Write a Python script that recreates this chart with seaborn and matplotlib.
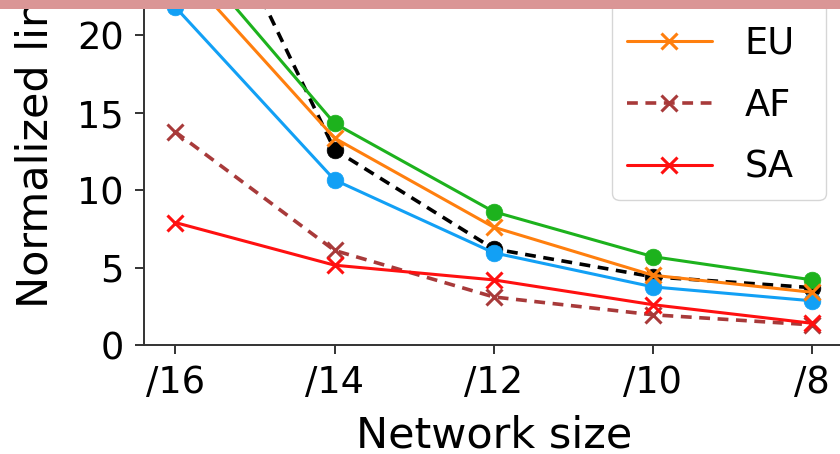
import matplotlib
matplotlib.use("Agg")
import matplotlib.pyplot as plt
from matplotlib.patches import Rectangle
import pandas as pd
import seaborn as sns

# Network sizes on the x axis
sizes = ["/16", "/14", "/12", "/10", "/8"]

# Normalized values per region
all_vals = [33.9, 12.6, 6.2, 4.4, 3.7]
as_vals = [26.3, 14.3, 8.6, 5.7, 4.2]
oc_vals = [21.8, 10.65, 5.95, 3.75, 2.85]
eu_vals = [24.7, 13.35, 7.6, 4.5, 3.4]
af_vals = [13.75, 6.1, 3.1, 1.95, 1.3]
sa_vals = [7.9, 5.15, 4.2, 2.6, 1.4]

regions = ["ALL", "AS", "OC", "EU", "AF", "SA"]
values = [all_vals, as_vals, oc_vals, eu_vals, af_vals, sa_vals]
colors = ["black", "#1db21d", "#12a0f5", "#ff7f0e", "#a83a3a", "#ff1010"]
markers = ["o", "o", "o", "x", "x", "x"]
dashed = [True, False, False, False, True, False]

df = pd.concat(
    [pd.DataFrame({"size": sizes, "value": v, "region": r}) for r, v in zip(regions, values)],
    ignore_index=True,
)

sns.set_style("ticks")
plt.rcParams["font.family"] = ["DejaVu Sans"]
plt.rcParams["text.color"] = "black"
plt.rcParams["axes.labelcolor"] = "black"
plt.rcParams["xtick.color"] = "black"
plt.rcParams["ytick.color"] = "black"

fig = plt.figure(figsize=(8.4, 4.54), dpi=100)
W, H = 840, 454
ax_left, ax_right = 143.5, 844.0
ax_bottom, ax_top = 345.0, -197.5
ax = fig.add_axes([ax_left / W, 1 - ax_bottom / H,
                   (ax_right - ax_left) / W, (ax_bottom - ax_top) / H])

for r, c, m, d in zip(regions, colors, markers, dashed):
    sub = df[df["region"] == r]
    sns.lineplot(
        data=sub, x="size", y="value", ax=ax, color=c, marker=m,
        linestyle=(0, (3.0, 2.1)) if d else "-",
        linewidth=2.6 if d else 2.2, markersize=12,
        markeredgecolor=c, markeredgewidth=2.2 if m == "x" else 0.5,
        markerfacecolor=c, label=r,
    )

ax.set_ylim(0, 35)
ax.set_yticks([0, 5, 10, 15, 20, 25, 30, 35])
ax.set_xlabel("Network size", fontsize=31, labelpad=9.5)
ax.set_ylabel("Normalized link count", fontsize=31, labelpad=15)
ax.tick_params(axis="both", labelsize=26.5, length=6.5, width=1.4, pad=7.5,
               color="#333333", labelcolor="black")
for side in ["left", "bottom", "top", "right"]:
    ax.spines[side].set_linewidth(1.4)
    ax.spines[side].set_color("#333333")
    ax.spines[side].set_visible(True)

leg = ax.legend(loc="upper right", bbox_to_anchor=(1.0, 1.0 - 3 / 542.5),
                fontsize=26.5, handlelength=2.3, handletextpad=0.9,
                labelspacing=0.68, framealpha=0.8)

# Header band along the top edge
fig.add_artist(Rectangle((0, 1 - 9 / H), 1, 9 / H, transform=fig.transFigure,
                         facecolor="#da9696", edgecolor="none", zorder=20))

fig.savefig("out.png", dpi=100)
